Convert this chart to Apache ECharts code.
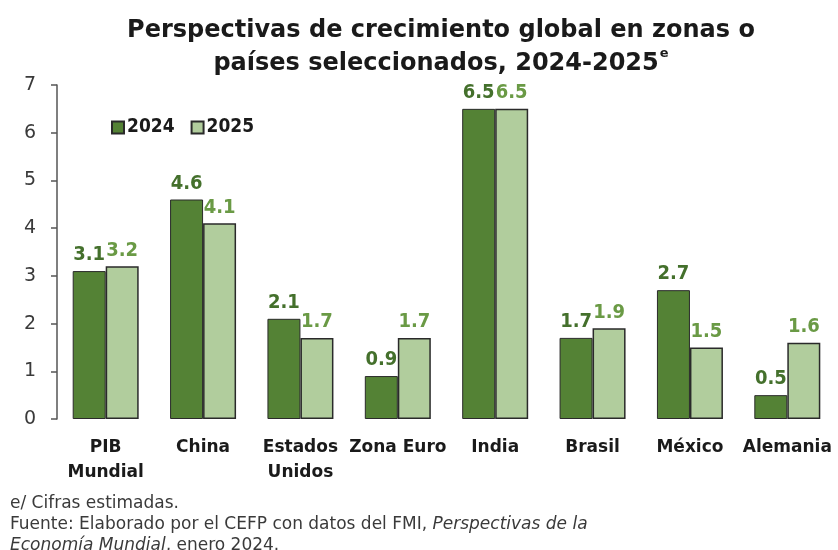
<!DOCTYPE html>
<html>
<head>
<meta charset="utf-8">
<script src="https://cdn.jsdelivr.net/npm/echarts@6/dist/echarts.min.js"></script>
<style>
  html, body { margin: 0; padding: 0; background: #fff; }
  #chart { width: 838px; height: 550px; }
</style>
</head>
<body>
<div id="chart"></div>
<script>
// Regions / countries shown on the category axis
const categories = ['PIB\nMundial', 'China', 'Estados\nUnidos', 'Zona Euro', 'India', 'Brasil', 'México', 'Alemania'];
// Growth outlook (%), by year
const values2024 = [3.1, 4.6, 2.1, 0.9, 6.5, 1.7, 2.7, 0.5];
const values2025 = [3.2, 4.1, 1.7, 1.7, 6.5, 1.9, 1.5, 1.6];
const seriesNames = ['2024', '2025'];
const yTicks = [0, 1, 2, 3, 4, 5, 6, 7];

const WIDE_FONT = '"DejaVu Sans", sans-serif';
const NARROW_FONT = '"DejaVu Sans Condensed", "DejaVu Sans", sans-serif';
const DARK = '#548235';
const LIGHT = '#b1cd9d';

const chart = echarts.init(document.getElementById('chart'));

chart.setOption({
  backgroundColor: '#ffffff',
  animation: false,
  title: {
    text: '{t|Perspectivas de crecimiento global en zonas o}\n{t|países seleccionados, 2024-2025}{sup|e}',
    left: 436,
    textAlign: 'center',
    top: 9,
    textStyle: {
      rich: {
        t: { fontFamily: WIDE_FONT, fontWeight: 'bold', fontSize: 24, color: '#1a1a1a', lineHeight: 33 },
        sup: { fontFamily: WIDE_FONT, fontWeight: 'bold', fontSize: 13, color: '#1a1a1a', verticalAlign: 'top', padding: [0, 0, 12, 1], lineHeight: 33 }
      }
    }
  },
  legend: {
    data: seriesNames,
    left: 106,
    top: 113,
    itemWidth: 12,
    itemHeight: 12,
    itemGap: 16,
    icon: 'rect',
    textStyle: { fontFamily: NARROW_FONT, fontWeight: 'bold', fontSize: 19, color: '#1a1a1a', padding: [0, 0, 0, -2] }
  },
  grid: { left: 57, right: 2, top: 85, bottom: 131, containLabel: false },
  xAxis: {
    type: 'category',
    data: categories,
    axisLine: { show: false },
    axisTick: { show: false },
    axisLabel: {
      fontFamily: WIDE_FONT, fontWeight: 'bold', fontSize: 17, color: '#1a1a1a',
      margin: 16, lineHeight: 25, interval: 0
    }
  },
  yAxis: {
    type: 'value',
    min: yTicks[0],
    max: yTicks[yTicks.length - 1],
    interval: 1,
    splitLine: { show: false },
    axisLine: { show: true, lineStyle: { color: '#555', width: 1.5 } },
    axisTick: { show: true, inside: false, length: 6, lineStyle: { color: '#555', width: 1.5 } },
    axisLabel: { fontFamily: WIDE_FONT, fontSize: 19, color: '#3a3a3a', margin: 21 }
  },
  series: [
    {
      name: seriesNames[0],
      type: 'bar',
      data: values2024,
      barWidth: 33,
      barGap: '0%',
      itemStyle: { color: DARK, borderColor: '#2a2a2a', borderWidth: 1 },
      label: {
        show: true, position: 'top', distance: 6,
        fontFamily: NARROW_FONT, fontWeight: 'bold', fontSize: 20, color: '#44702c',
        formatter: p => p.value.toFixed(1)
      }
    },
    {
      name: seriesNames[1],
      type: 'bar',
      data: values2025,
      barWidth: 33,
      barGap: '0%',
      itemStyle: { color: LIGHT, borderColor: '#2a2a2a', borderWidth: 1.5 },
      label: {
        show: true, position: 'top', distance: 6,
        fontFamily: NARROW_FONT, fontWeight: 'bold', fontSize: 20, color: '#6a9a45',
        formatter: p => p.value.toFixed(1)
      }
    }
  ],
  graphic: [
    {
      type: 'text', left: 10, top: 493,
      style: {
        text: 'e/ Cifras estimadas.\nFuente: Elaborado por el CEFP con datos del FMI, {i|Perspectivas de la}\n{i|Economía Mundial}, enero 2024.',
        fontFamily: WIDE_FONT, fontSize: 17, fill: '#3a3a3a', lineHeight: 21,
        rich: { i: { fontFamily: WIDE_FONT, fontStyle: 'italic', fontSize: 17, fill: '#3a3a3a', lineHeight: 21 } }
      }
    }
  ]
});
</script>
</body>
</html>
